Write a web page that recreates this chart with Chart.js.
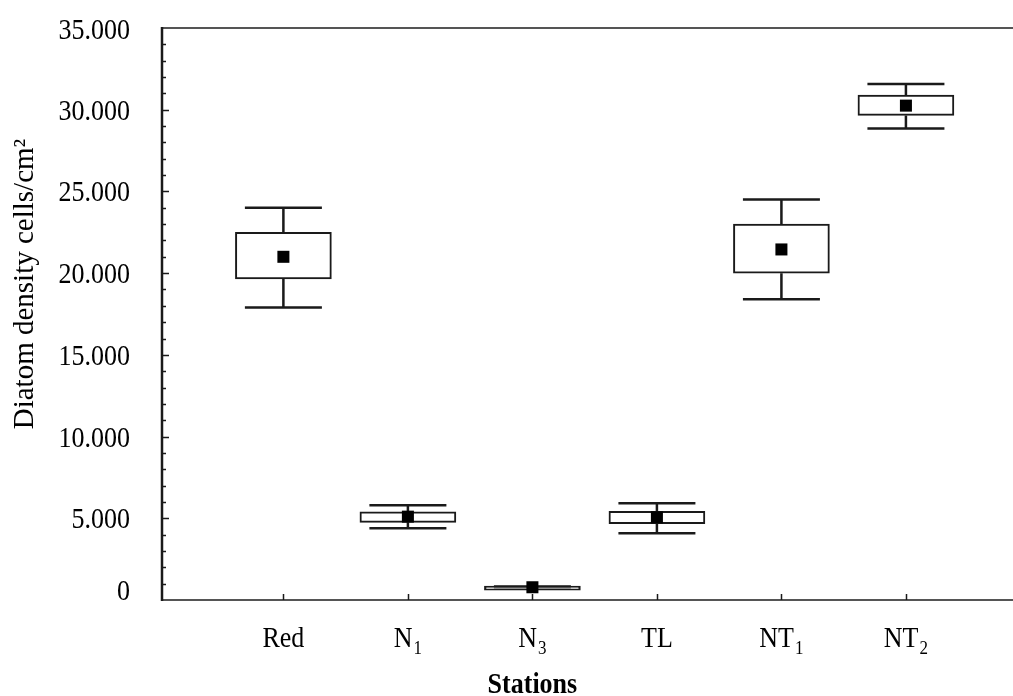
<!DOCTYPE html>
<html>
<head>
<meta charset="utf-8">
<script src="https://cdn.jsdelivr.net/npm/chart.js@4.4.1/dist/chart.umd.min.js"></script>
<style>
  html, body { margin: 0; padding: 0; background: #fff; overflow: hidden; }
  #wrap { width: 1013px; height: 696px; }
</style>
</head>
<body>
<div id="wrap"><canvas id="chart" width="1013" height="696"></canvas></div>
<script>
/* ─── Data ──────────────────────────────────────────────── */

const stationNames = ['Red', 'N', 'N', 'TL', 'NT', 'NT'];
const stationSubs  = ['', '1', '3', '', '1', '2'];

const whiskerLow  = [17900, 4390, 700, 4080, 18400, 28850];
const boxLow      = [19650, 4750, 600, 4670, 20000, 29650];
const meanValues  = [21000, 5100, 780, 5060, 21450, 30250];
const boxHigh     = [22500, 5400, 850, 5430, 23000, 30900];
const whiskerHigh = [24000, 5800, 820, 5920, 24500, 31580];

const yTicks = [0, 5000, 10000, 15000, 20000, 25000, 30000, 35000];

/* ─── Look ──────────────────────────────────────────────── */

const FONT = '"Liberation Serif", "Times New Roman", serif';
const INK = '#000';
const CAP_WIDTH = 77;
const STRETCH = 1.14;   // source text is a little taller than wide

function fmtThousands(v) {
  return v === 0 ? '0' : (v / 1000) + '.000';
}

function tallText(ctx, text, x, y) {
  ctx.save();
  ctx.translate(x, y);
  ctx.scale(1, STRETCH);
  ctx.fillText(text, 0, 0);
  ctx.restore();
}

// whiskers, axis frame, inward ticks and labels with subscripts
const boxDecor = {
  id: 'boxDecor',
  beforeDatasetsDraw(chart) {
    const { ctx, scales: { x, y } } = chart;
    ctx.save();
    ctx.strokeStyle = '#1a1a1a';
    ctx.lineWidth = 2.5;
    stationNames.forEach((_, i) => {
      const px = x.getPixelForValue(i);
      const lo = y.getPixelForValue(whiskerLow[i]);
      const hi = y.getPixelForValue(whiskerHigh[i]);
      const bLo = y.getPixelForValue(boxLow[i]);
      const bHi = y.getPixelForValue(boxHigh[i]);
      ctx.beginPath();
      ctx.moveTo(px, hi); ctx.lineTo(px, bHi);
      ctx.moveTo(px, bLo); ctx.lineTo(px, lo);
      ctx.moveTo(px - CAP_WIDTH / 2, hi); ctx.lineTo(px + CAP_WIDTH / 2, hi);
      ctx.moveTo(px - CAP_WIDTH / 2, lo); ctx.lineTo(px + CAP_WIDTH / 2, lo);
      ctx.stroke();
    });
    ctx.restore();
  },
  afterDraw(chart) {
    const { ctx, chartArea: a, scales: { x, y } } = chart;
    ctx.save();

    // frame: left, top, bottom (right edge is cropped off)
    ctx.strokeStyle = '#555';
    ctx.lineWidth = 2;
    ctx.beginPath();
    ctx.moveTo(a.left, a.top); ctx.lineTo(a.right, a.top);
    ctx.moveTo(a.left, a.bottom); ctx.lineTo(a.right, a.bottom);
    ctx.stroke();
    ctx.strokeStyle = '#1a1a1a';
    ctx.lineWidth = 2.5;
    ctx.beginPath();
    ctx.moveTo(a.left, a.top - 1); ctx.lineTo(a.left, a.bottom + 1);
    ctx.stroke();

    // y ticks pointing inward, minor every 1000
    ctx.lineWidth = 1.5;
    ctx.beginPath();
    for (let v = 1000; v < 35000; v += 1000) {
      const py = Math.round(y.getPixelForValue(v)) + 0.5;
      const len = v % 5000 === 0 ? 7 : 4;
      ctx.moveTo(a.left, py); ctx.lineTo(a.left + len, py);
    }
    // x ticks at stations
    stationNames.forEach((_, i) => {
      const px = Math.round(x.getPixelForValue(i)) + 0.5;
      ctx.moveTo(px, a.bottom); ctx.lineTo(px, a.bottom - 6);
    });
    ctx.stroke();

    ctx.fillStyle = INK;
    ctx.textBaseline = 'alphabetic';

    // y tick labels
    ctx.font = '26px ' + FONT;
    ctx.textAlign = 'right';
    yTicks.forEach(v => {
      const py = y.getPixelForValue(v);
      const base = Math.min(Math.max(py + 10, a.top + 11), a.bottom);
      tallText(ctx, fmtThousands(v), a.left - 32, base);
    });

    // station labels with subscripts
    stationNames.forEach((name, i) => {
      const px = x.getPixelForValue(i);
      ctx.font = '26px ' + FONT;
      const wMain = ctx.measureText(name).width;
      ctx.font = '17px ' + FONT;
      const wSub = stationSubs[i] ? ctx.measureText(stationSubs[i]).width + 1 : 0;
      const left = px - (wMain + wSub) / 2;
      ctx.textAlign = 'left';
      ctx.font = '26px ' + FONT;
      tallText(ctx, name, left, 647);
      if (stationSubs[i]) {
        ctx.font = '17px ' + FONT;
        tallText(ctx, stationSubs[i], left + wMain + 1, 654);
      }
    });

    // axis titles
    ctx.font = 'bold 26px ' + FONT;
    ctx.textAlign = 'center';
    tallText(ctx, 'Stations', x.getPixelForValue(2), 693);

    ctx.translate(33, 284);
    ctx.rotate(-Math.PI / 2);
    ctx.font = '29px ' + FONT;
    ctx.fillText('Diatom density cells/cm²', 0, 0);
    ctx.restore();
  }
};

new Chart(document.getElementById('chart'), {
  type: 'bar',
  data: {
    datasets: [
      {
        label: 'Box',
        data: boxLow.map((v, i) => ({ x: i, y: [v, boxHigh[i]] })),
        backgroundColor: '#fff',
        borderColor: '#1a1a1a',
        borderWidth: 2,
        borderSkipped: false,
        barThickness: 96,
        order: 2,
      },
      {
        type: 'scatter',
        label: 'Mean',
        data: meanValues.map((v, i) => ({ x: i, y: v })),
        pointStyle: 'rect',
        pointRadius: 8.5,
        pointBorderWidth: 0,
        backgroundColor: '#000',
        borderColor: '#000',
        order: 1,
      },
    ],
  },
  options: {
    responsive: false,
    animation: false,
    devicePixelRatio: 1,
    layout: { autoPadding: false, padding: { top: 28, left: 0, right: 0, bottom: 0 } },
    plugins: {
      legend: { display: false },
      tooltip: { enabled: false },
    },
    scales: {
      x: {
        type: 'linear',
        offset: false,
        min: -0.975,
        max: 5.86,
        grid: { display: false, drawTicks: false },
        border: { display: false },
        ticks: { display: false },
        afterFit(scale) {
          scale.height = 96;
          scale.paddingLeft = 0;
          scale.paddingRight = 0;
        },
      },
      y: {
        min: 0,
        max: 35000,
        grid: { display: false, drawTicks: false },
        border: { display: false },
        afterBuildTicks(scale) { scale.ticks = yTicks.map(v => ({ value: v })); },
        ticks: { display: false },
        afterFit(scale) {
          scale.width = 162;
          scale.paddingTop = 0;
          scale.paddingBottom = 0;
        },
      },
    },
  },
  plugins: [boxDecor],
});
</script>
</body>
</html>
